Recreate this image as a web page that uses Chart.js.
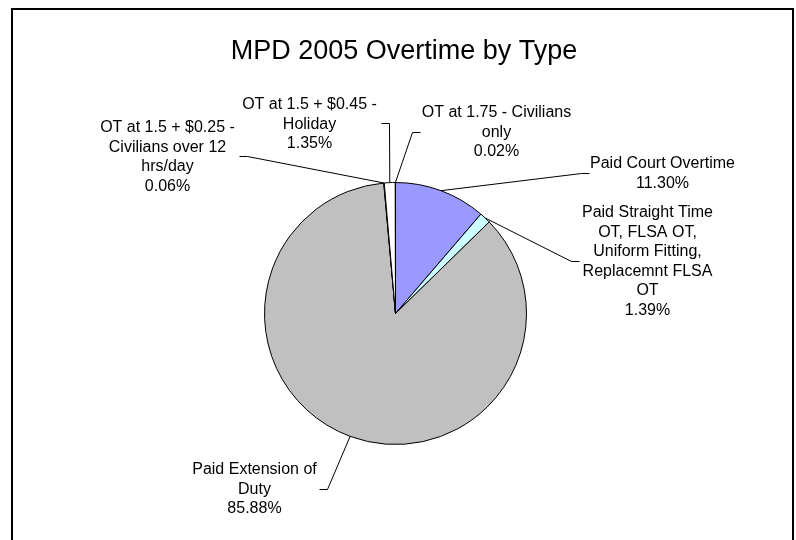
<!DOCTYPE html>
<html>
<head>
<meta charset="utf-8">
<title>MPD 2005 Overtime by Type</title>
<script src="https://cdn.jsdelivr.net/npm/chart.js@4"></script>
<style>
  html, body { margin: 0; padding: 0; background: #fff; overflow: hidden; }
  #wrap { position: relative; width: 796px; height: 540px; }
  #frame {
    position: absolute; left: 11px; top: 8px;
    width: 779px; height: 600px;
    border: 2px solid #000; pointer-events: none;
  }
  #pieChart { position: absolute; left: 0; top: 0; }
</style>
</head>
<body>
<div id="wrap">
  <canvas id="pieChart" width="796" height="540"></canvas>
  <div id="frame"></div>
</div>
<script>
// categories, clockwise from 12 o'clock (multi-line as drawn in the chart)
const categories = [
  ["Paid Court Overtime"],
  ["Paid Straight Time", "OT, FLSA OT,", "Uniform Fitting,", "Replacemnt FLSA", "OT"],
  ["Paid Extension of", "Duty"],
  ["OT at 1.5 + $0.25 -", "Civilians over 12", "hrs/day"],
  ["OT at 1.5 + $0.45 -", "Holiday"],
  ["OT at 1.75 - Civilians", "only"],
];
// share of overtime, percent
const shares = [11.30, 1.39, 85.88, 0.06, 1.35, 0.02];
const sliceColors = ["#9999FF", "#CCFFFF", "#C0C0C0", "#FFFFFF", "#FFFFFF", "#FFFFFF"];

// label placement, offsets from the pie centre (text centre x, first line y)
const labelOffsets = [
  [267, -150], [252, -101], [-141, 156], [-228, -186], [-86, -209], [101, -201],
];
// bend point of each leader line, offset from the pie centre
const leaderBends = [
  [186, -140], [176, -52], [-68, 176], [-148, -157], [-6, -190], [17, -181],
];

const titleText = "MPD 2005 Overtime by Type";
const fontFamily = "'Liberation Sans', Arial, sans-serif";

const total = shares.reduce((a, b) => a + b, 0);

// draws the title, leader lines and the outside labels
const calloutPlugin = {
  id: "callouts",
  afterDraw(chart) {
    const ctx = chart.ctx;
    const meta = chart.getDatasetMeta(0);

    ctx.save();
    ctx.fillStyle = "#000";
    ctx.font = "27px " + fontFamily;
    ctx.textAlign = "center";
    ctx.textBaseline = "alphabetic";
    ctx.fillText(titleText, 404, 59);

    ctx.strokeStyle = "#000";
    ctx.lineWidth = 1;
    ctx.font = "16px " + fontFamily;
    ctx.textBaseline = "middle";

    meta.data.forEach((arc, i) => {
      const { x, y, outerRadius, startAngle, endAngle } = arc.getProps(
        ["x", "y", "outerRadius", "startAngle", "endAngle"], true);
      const mid = (startAngle + endAngle) / 2;
      const sx = x + Math.cos(mid) * outerRadius;
      const sy = y + Math.sin(mid) * outerRadius;
      const bx = x + leaderBends[i][0];
      const by = y + leaderBends[i][1];
      const lx = x + labelOffsets[i][0];
      const ly = y + labelOffsets[i][1];
      const tick = lx > bx ? 8 : -8;

      ctx.beginPath();
      ctx.moveTo(sx, sy);
      ctx.lineTo(bx, by);
      ctx.lineTo(bx + tick, by);
      ctx.stroke();

      const pct = (shares[i] / total * 100).toFixed(2) + "%";
      const lines = categories[i].concat([pct]);
      lines.forEach((line, k) => {
        ctx.fillText(line, lx, ly + k * 19.6);
      });
    });
    ctx.restore();
  },
};

new Chart(document.getElementById("pieChart"), {
  type: "pie",
  data: {
    labels: categories,
    datasets: [{
      data: shares,
      backgroundColor: sliceColors,
      borderColor: "#000",
      borderWidth: 1,
    }],
  },
  options: {
    responsive: false,
    animation: false,
    layout: { padding: { left: 264, right: 269, top: 182, bottom: 95 } },
    plugins: {
      legend: { display: false },
      tooltip: { enabled: false },
      title: { display: false },
    },
  },
  plugins: [calloutPlugin],
});
</script>
</body>
</html>
